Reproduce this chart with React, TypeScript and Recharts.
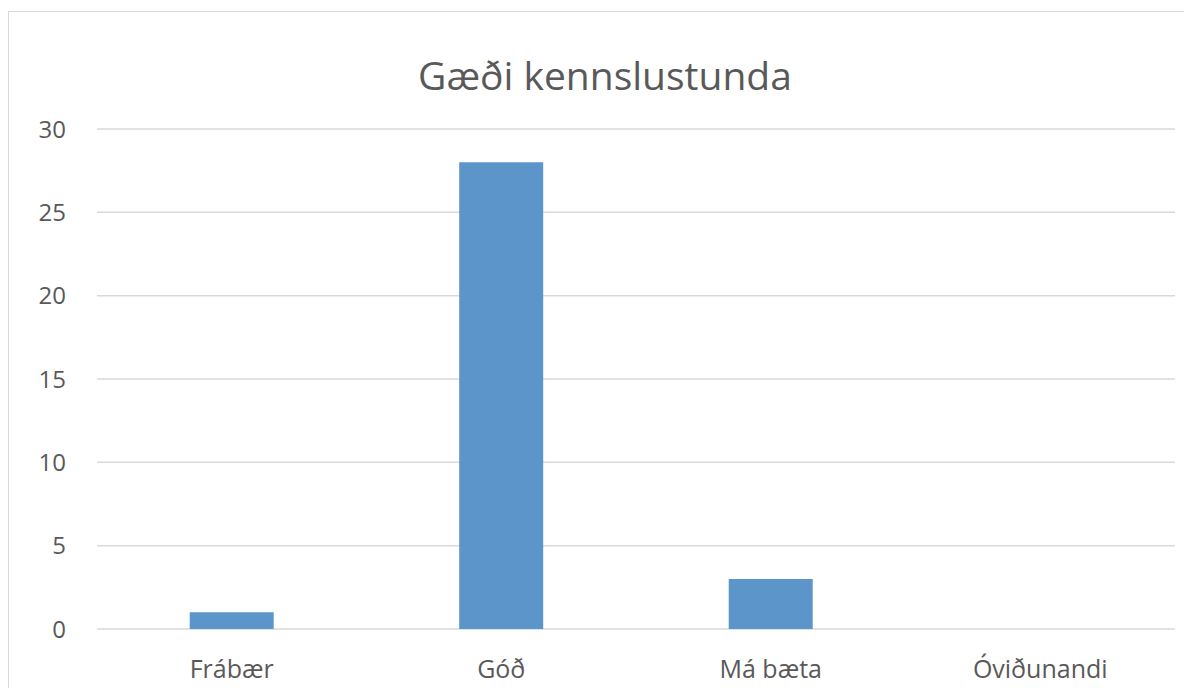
import { BarChart, Bar, XAxis, YAxis, CartesianGrid } from "recharts";

const categories = ["Frábær", "Góð", "Má bæta", "Óviðunandi"];
const counts = [1, 28, 3, 0];
const yTicks = [0, 5, 10, 15, 20, 25, 30];

const data = categories.map((name, i) => ({ name, value: counts[i] }));

const FONT = "'Open Sans', sans-serif";
const TEXT = "#595959";

export default function App() {
  return (
    <div style={{ paddingTop: 3 }}>
      <div
        style={{
          position: "relative",
          width: 1183,
          height: 676,
          borderTop: "1.5px solid #d9d9d9",
          borderLeft: "1.5px solid #d9d9d9",
          background: "#fff",
          fontFamily: FONT,
        }}
      >
        <div
          style={{
            position: "absolute",
            left: 0,
            width: 1192,
            top: 38,
            textAlign: "center",
            fontSize: 39,
            color: TEXT,
            lineHeight: "50px",
          }}
        >
          Gæði kennslustunda
        </div>
        <BarChart
          width={1182}
          height={676}
          data={data}
          margin={{ top: 117, right: 16, bottom: 0, left: 0 }}
          barCategoryGap="34.4%"
        >
          <CartesianGrid vertical={false} stroke="#d9d9d9" strokeWidth={1.5} />
          <XAxis
            dataKey="name"
            height={59}
            axisLine={false}
            tickLine={false}
            tickSize={0}
            tickMargin={31}
            tick={{ fill: TEXT, fontSize: 25, fontFamily: FONT }}
          />
          <YAxis
            width={88}
            domain={[0, 30]}
            ticks={yTicks}
            axisLine={false}
            tickLine={false}
            tickSize={0}
            tickMargin={31}
            tick={{ fill: TEXT, fontSize: 24, fontFamily: FONT }}
          />
          <Bar dataKey="value" fill="#5B95CA" isAnimationActive={false} />
        </BarChart>
      </div>
    </div>
  );
}
